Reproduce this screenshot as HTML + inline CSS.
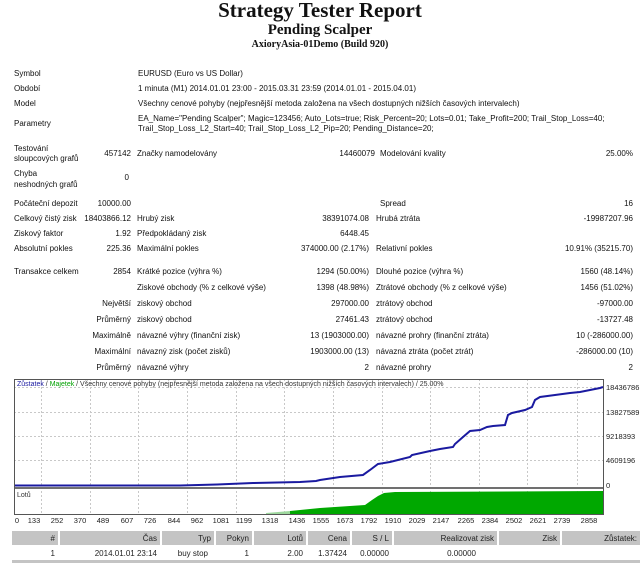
<!DOCTYPE html>
<html><head><meta charset="utf-8">
<style>
*{margin:0;padding:0;box-sizing:border-box}
body{width:640px;height:563px;background:#fff;position:relative;overflow:hidden;font-family:"Liberation Sans",sans-serif;font-size:8px;color:#111}
.t{position:absolute;white-space:nowrap;line-height:10px}
.r{text-align:right}
.h{position:absolute;left:0;width:640px;text-align:center;font-family:"Liberation Serif",serif;font-weight:bold;color:#111}
</style></head><body>
<div class="h" style="top:-2px;font-size:21px;line-height:24px">Strategy Tester Report</div>
<div class="h" style="top:21px;font-size:15px;line-height:18px">Pending Scalper</div>
<div class="h" style="top:39px;font-size:10px;line-height:12px">AxioryAsia-01Demo (Build 920)</div>

<div class="t" style="left:14px;top:69px">Symbol</div>
<div class="t" style="left:138px;top:69px">EURUSD (Euro vs US Dollar)</div>
<div class="t" style="left:14px;top:84px">Období</div>
<div class="t" style="left:138px;top:84px">1 minuta (M1) 2014.01.01 23:00 - 2015.03.31 23:59 (2014.01.01 - 2015.04.01)</div>
<div class="t" style="left:14px;top:99px">Model</div>
<div class="t" style="left:138px;top:99px">Všechny cenové pohyby (nejpřesnější metoda založena na všech dostupných nižších časových intervalech)</div>
<div class="t" style="left:14px;top:119px">Parametry</div>
<div class="t" style="left:138px;top:114px">EA_Name="Pending Scalper"; Magic=123456; Auto_Lots=true; Risk_Percent=20; Lots=0.01; Take_Profit=200; Trail_Stop_Loss=40;</div>
<div class="t" style="left:138px;top:124px">Trail_Stop_Loss_L2_Start=40; Trail_Stop_Loss_L2_Pip=20; Pending_Distance=20;</div>
<div class="t" style="left:14px;top:144px">Testování</div>
<div class="t" style="left:14px;top:154px">sloupcových grafů</div>
<div class="t r" style="right:509px;top:149px">457142</div>
<div class="t" style="left:137px;top:149px">Značky namodelovány</div>
<div class="t r" style="right:265px;top:149px">14460079</div>
<div class="t" style="left:380px;top:149px">Modelování kvality</div>
<div class="t r" style="right:7px;top:149px">25.00%</div>
<div class="t" style="left:14px;top:169px">Chyba</div>
<div class="t" style="left:14px;top:180px">neshodných grafů</div>
<div class="t r" style="right:511px;top:173px">0</div>

<div class="t" style="left:14px;top:199px">Počáteční depozit</div>
<div class="t r" style="right:509px;top:199px">10000.00</div>
<div class="t" style="left:380px;top:199px">Spread</div>
<div class="t r" style="right:7px;top:199px">16</div>

<div class="t" style="left:14px;top:214px">Celkový čistý zisk</div>
<div class="t r" style="right:509px;top:214px">18403866.12</div>
<div class="t" style="left:137px;top:214px">Hrubý zisk</div>
<div class="t r" style="right:271px;top:214px">38391074.08</div>
<div class="t" style="left:376px;top:214px">Hrubá ztráta</div>
<div class="t r" style="right:7px;top:214px">-19987207.96</div>

<div class="t" style="left:14px;top:229px">Ziskový faktor</div>
<div class="t r" style="right:509px;top:229px">1.92</div>
<div class="t" style="left:137px;top:229px">Předpokládaný zisk</div>
<div class="t r" style="right:271px;top:229px">6448.45</div>

<div class="t" style="left:14px;top:244px">Absolutní pokles</div>
<div class="t r" style="right:509px;top:244px">225.36</div>
<div class="t" style="left:137px;top:244px">Maximální pokles</div>
<div class="t r" style="right:271px;top:244px">374000.00 (2.17%)</div>
<div class="t" style="left:376px;top:244px">Relativní pokles</div>
<div class="t r" style="right:7px;top:244px">10.91% (35215.70)</div>

<div class="t" style="left:14px;top:267px">Transakce celkem</div>
<div class="t r" style="right:509px;top:267px">2854</div>
<div class="t" style="left:137px;top:267px">Krátké pozice (výhra %)</div>
<div class="t r" style="right:271px;top:267px">1294 (50.00%)</div>
<div class="t" style="left:376px;top:267px">Dlouhé pozice (výhra %)</div>
<div class="t r" style="right:7px;top:267px">1560 (48.14%)</div>

<div class="t" style="left:137px;top:283px">Ziskové obchody (% z celkové výše)</div>
<div class="t r" style="right:271px;top:283px">1398 (48.98%)</div>
<div class="t" style="left:376px;top:283px">Ztrátové obchody (% z celkové výše)</div>
<div class="t r" style="right:7px;top:283px">1456 (51.02%)</div>

<div class="t r" style="right:509px;top:299px">Největší</div>
<div class="t" style="left:137px;top:299px">ziskový obchod</div>
<div class="t r" style="right:271px;top:299px">297000.00</div>
<div class="t" style="left:376px;top:299px">ztrátový obchod</div>
<div class="t r" style="right:7px;top:299px">-97000.00</div>

<div class="t r" style="right:509px;top:315px">Průměrný</div>
<div class="t" style="left:137px;top:315px">ziskový obchod</div>
<div class="t r" style="right:271px;top:315px">27461.43</div>
<div class="t" style="left:376px;top:315px">ztrátový obchod</div>
<div class="t r" style="right:7px;top:315px">-13727.48</div>

<div class="t r" style="right:509px;top:331px">Maximálně</div>
<div class="t" style="left:137px;top:331px">návazné výhry (finanční zisk)</div>
<div class="t r" style="right:271px;top:331px">13 (1903000.00)</div>
<div class="t" style="left:376px;top:331px">návazné prohry (finanční ztráta)</div>
<div class="t r" style="right:7px;top:331px">10 (-286000.00)</div>

<div class="t r" style="right:509px;top:347px">Maximální</div>
<div class="t" style="left:137px;top:347px">návazný zisk (počet zisků)</div>
<div class="t r" style="right:271px;top:347px">1903000.00 (13)</div>
<div class="t" style="left:376px;top:347px">návazná ztráta (počet ztrát)</div>
<div class="t r" style="right:7px;top:347px">-286000.00 (10)</div>

<div class="t r" style="right:509px;top:363px">Průměrný</div>
<div class="t" style="left:137px;top:363px">návazné výhry</div>
<div class="t r" style="right:271px;top:363px">2</div>
<div class="t" style="left:376px;top:363px">návazné prohry</div>
<div class="t r" style="right:7px;top:363px">2</div>

<svg style="position:absolute;left:0;top:0" width="640" height="563">
<g stroke="#c8c8c8" stroke-dasharray="2,2" stroke-width="1">
<line x1="14" y1="387.5" x2="603" y2="387.5"/><line x1="14" y1="412.5" x2="603" y2="412.5"/>
<line x1="14" y1="436.5" x2="603" y2="436.5"/><line x1="14" y1="460.5" x2="603" y2="460.5"/>
<line x1="41.5" y1="379" x2="41.5" y2="514"/><line x1="90.5" y1="379" x2="90.5" y2="514"/>
<line x1="138.5" y1="379" x2="138.5" y2="514"/><line x1="187.5" y1="379" x2="187.5" y2="514"/>
<line x1="236.5" y1="379" x2="236.5" y2="514"/><line x1="284.5" y1="379" x2="284.5" y2="514"/>
<line x1="333.5" y1="379" x2="333.5" y2="514"/><line x1="382.5" y1="379" x2="382.5" y2="514"/>
<line x1="430.5" y1="379" x2="430.5" y2="514"/><line x1="479.5" y1="379" x2="479.5" y2="514"/>
<line x1="527.5" y1="379" x2="527.5" y2="514"/><line x1="577.5" y1="379" x2="577.5" y2="514"/>
</g>
<polygon fill="#9ed89e" points="266,514 266,513 290,511 290,514"/>
<polygon fill="#00a800" points="290,514 290,511 320,508 350,506 365,505 372,500 378,496 384,493 395,492 603,491 603,514"/>
<polyline fill="none" stroke="#1a1aa0" stroke-width="2" points="14,485.5 180,485.5 217,484.5 253,483 300,482 316,481 320,480 340,477 363,475 370,470 378,464 390,462 410,457 412,455 430,451 440,449 453,447 455,444 463,437 470,431 480,430 487,427 493,426 505,425 508,415 512,413 525,410 532,407 535,400 540,397 555,395 570,393 580,392 590,390 600,388 603,387"/>
<rect x="14" y="487" width="589" height="2" fill="#707070"/>
<rect x="14.5" y="379.5" width="589" height="135" fill="none" stroke="#555" stroke-width="1"/>
<text x="17" y="386" font-size="7" font-family="Liberation Sans,sans-serif"><tspan fill="#1a1aa0">Zůstatek</tspan><tspan fill="#333"> / </tspan><tspan fill="#00a000">Majetek</tspan><tspan fill="#333"> / Všechny cenové pohyby (nejpřesnější metoda založena na všech dostupných nižších časových intervalech) / 25.00%</tspan></text>
<text x="17" y="497" font-size="7" fill="#333" font-family="Liberation Sans,sans-serif">Lotů</text>
<g font-size="7.5" fill="#222" font-family="Liberation Sans,sans-serif">
<text x="606" y="390">18436786</text><text x="606" y="415">13827589</text>
<text x="606" y="439">9218393</text><text x="606" y="463">4609196</text><text x="606" y="488">0</text>
</g>
<g font-size="7.5" fill="#222" font-family="Liberation Sans,sans-serif" text-anchor="middle">
<text x="17" y="523">0</text><text x="34" y="523">133</text><text x="57" y="523">252</text><text x="80" y="523">370</text><text x="103" y="523">489</text><text x="127" y="523">607</text><text x="150" y="523">726</text><text x="174" y="523">844</text><text x="197" y="523">962</text><text x="221" y="523">1081</text><text x="244" y="523">1199</text><text x="270" y="523">1318</text><text x="297" y="523">1436</text><text x="321" y="523">1555</text><text x="345" y="523">1673</text><text x="369" y="523">1792</text><text x="393" y="523">1910</text><text x="417" y="523">2029</text><text x="441" y="523">2147</text><text x="466" y="523">2265</text><text x="490" y="523">2384</text><text x="514" y="523">2502</text><text x="538" y="523">2621</text><text x="562" y="523">2739</text><text x="589" y="523">2858</text>
</g>
<g fill="#c4c4c4">
<rect x="12" y="531" width="46" height="14"/><rect x="60" y="531" width="100" height="14"/>
<rect x="162" y="531" width="52" height="14"/><rect x="216" y="531" width="36" height="14"/>
<rect x="254" y="531" width="52" height="14"/><rect x="308" y="531" width="42" height="14"/>
<rect x="352" y="531" width="40" height="14"/><rect x="394" y="531" width="103" height="14"/>
<rect x="499" y="531" width="61" height="14"/><rect x="562" y="531" width="78" height="14"/>
<rect x="12" y="560" width="628" height="3"/>
</g>
<g font-size="8" fill="#222" font-family="Liberation Sans,sans-serif" text-anchor="end">
<text x="55" y="541">#</text><text x="157" y="541">Čas</text><text x="211" y="541">Typ</text><text x="249" y="541">Pokyn</text><text x="303" y="541">Lotů</text><text x="347" y="541">Cena</text><text x="389" y="541">S / L</text><text x="494" y="541">Realizovat zisk</text><text x="557" y="541">Zisk</text><text x="637" y="541">Zůstatek:</text>
<text x="55" y="556">1</text><text x="157" y="556">2014.01.01 23:14</text><text x="208" y="556">buy stop</text><text x="249" y="556">1</text><text x="303" y="556">2.00</text><text x="347" y="556">1.37424</text><text x="389" y="556">0.00000</text><text x="476" y="556">0.00000</text>
</g>
</svg>
</body></html>
